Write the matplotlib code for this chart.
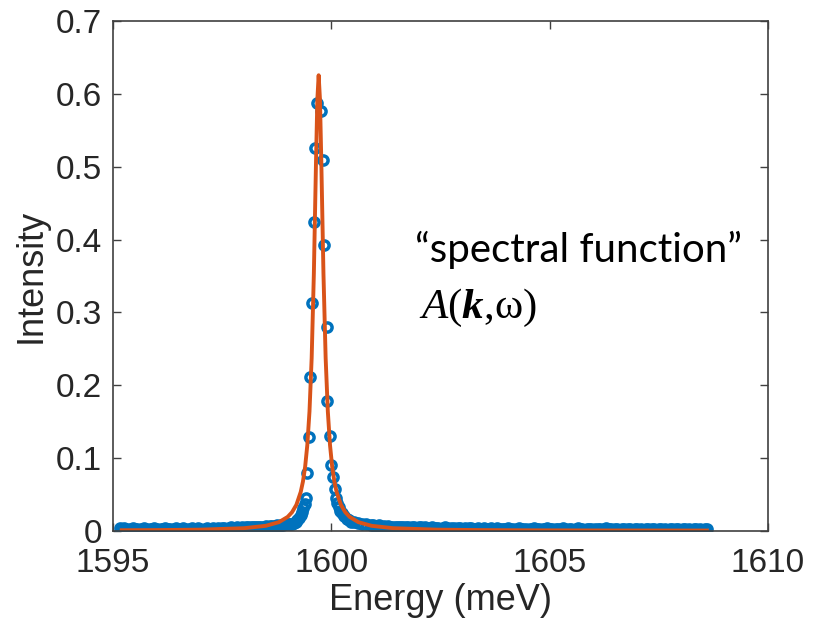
import numpy as np
import matplotlib.pyplot as plt

# measured spectrum (meV, intensity), low-energy tail
energy_left = [
    1595.15, 1595.20, 1595.25, 1595.30, 1595.35, 1595.40, 1595.45, 1595.50, 1595.55, 1595.60,
    1595.65, 1595.70, 1595.75, 1595.80, 1595.85, 1595.90, 1595.95, 1596.00, 1596.05, 1596.10,
    1596.15, 1596.20, 1596.25, 1596.30, 1596.35, 1596.40, 1596.45, 1596.50, 1596.55, 1596.60,
    1596.65, 1596.70, 1596.75, 1596.80, 1596.85, 1596.90, 1596.95, 1597.00, 1597.05, 1597.10,
    1597.15, 1597.20, 1597.25, 1597.30, 1597.35, 1597.40, 1597.45, 1597.50, 1597.55, 1597.60,
    1597.65, 1597.70, 1597.75, 1597.80, 1597.85, 1597.90, 1597.95, 1598.00, 1598.05, 1598.10,
    1598.15, 1598.20, 1598.25, 1598.30, 1598.35, 1598.40, 1598.45, 1598.50, 1598.55, 1598.60,
    1598.65, 1598.70, 1598.75, 1598.80, 1598.85, 1598.90, 1598.95, 1599.00]
intensity_left = [
    0.004, 0.003, 0.004, 0.003, 0.002, 0.003, 0.004, 0.003, 0.003, 0.002,
    0.003, 0.004, 0.003, 0.002, 0.003, 0.003, 0.004, 0.003, 0.002, 0.003,
    0.003, 0.004, 0.003, 0.003, 0.002, 0.003, 0.004, 0.003, 0.003, 0.004,
    0.003, 0.002, 0.003, 0.004, 0.003, 0.003, 0.004, 0.003, 0.002, 0.003,
    0.004, 0.003, 0.003, 0.004, 0.003, 0.004, 0.003, 0.004, 0.004, 0.003,
    0.004, 0.005, 0.004, 0.004, 0.005, 0.004, 0.005, 0.004, 0.005, 0.005,
    0.005, 0.006, 0.005, 0.006, 0.006, 0.005, 0.006, 0.007, 0.006, 0.007,
    0.007, 0.007, 0.008, 0.007, 0.008, 0.008, 0.009, 0.009]

# around the peak
energy_peak = [1599.06, 1599.10, 1599.14, 1599.18, 1599.22, 1599.26, 1599.30, 1599.33,
               1599.36, 1599.39, 1599.413, 1599.436, 1599.488, 1599.511, 1599.55, 1599.61,
               1599.626, 1599.665, 1599.757, 1599.802, 1599.839, 1599.894, 1599.908,
               1599.969, 1599.992, 1600.045, 1600.084, 1600.10, 1600.13, 1600.17, 1600.21,
               1600.25, 1600.30, 1600.35, 1600.40, 1600.46, 1600.52, 1600.60, 1600.70,
               1600.80, 1600.90]
intensity_peak = [0.009, 0.010, 0.011, 0.013, 0.015, 0.018, 0.022, 0.026,
                  0.031, 0.037, 0.045, 0.080, 0.129, 0.211, 0.3125, 0.424,
                  0.525, 0.588, 0.577, 0.509, 0.392, 0.280, 0.179,
                  0.131, 0.0906, 0.0745, 0.057, 0.045, 0.039, 0.033, 0.028,
                  0.024, 0.020, 0.017, 0.015, 0.013, 0.012, 0.011, 0.010,
                  0.009, 0.008]

# high-energy tail
energy_right = [
    1600.95, 1601.00, 1601.05, 1601.10, 1601.15, 1601.20, 1601.25, 1601.30, 1601.35, 1601.40,
    1601.45, 1601.50, 1601.55, 1601.60, 1601.65, 1601.70, 1601.75, 1601.80, 1601.85, 1601.90,
    1601.95, 1602.00, 1602.05, 1602.10, 1602.15, 1602.20, 1602.25, 1602.30, 1602.35, 1602.40,
    1602.45, 1602.50, 1602.55, 1602.60, 1602.65, 1602.70, 1602.75, 1602.80, 1602.85, 1602.90,
    1602.95, 1603.00, 1603.05, 1603.10, 1603.15, 1603.20, 1603.25, 1603.30, 1603.35, 1603.40,
    1603.45, 1603.50, 1603.55, 1603.60, 1603.65, 1603.70, 1603.75, 1603.80, 1603.85, 1603.90,
    1603.95, 1604.00, 1604.05, 1604.10, 1604.15, 1604.20, 1604.25, 1604.30, 1604.35, 1604.40,
    1604.45, 1604.50, 1604.55, 1604.60, 1604.65, 1604.70, 1604.75, 1604.80, 1604.85, 1604.90,
    1604.95, 1605.00, 1605.05, 1605.10, 1605.15, 1605.20, 1605.25, 1605.30, 1605.35, 1605.40,
    1605.45, 1605.50, 1605.55, 1605.60, 1605.65, 1605.70, 1605.75, 1605.80, 1605.85, 1605.90,
    1605.95, 1606.00, 1606.05, 1606.10, 1606.15, 1606.20, 1606.25, 1606.30, 1606.35, 1606.40,
    1606.45, 1606.50, 1606.55, 1606.60, 1606.65, 1606.70, 1606.75, 1606.80, 1606.85, 1606.90,
    1606.95, 1607.00, 1607.05, 1607.10, 1607.15, 1607.20, 1607.25, 1607.30, 1607.35, 1607.40,
    1607.45, 1607.50, 1607.55, 1607.60, 1607.65, 1607.70, 1607.75, 1607.80, 1607.85, 1607.90,
    1607.95, 1608.00, 1608.05, 1608.10, 1608.15, 1608.20, 1608.25, 1608.30, 1608.35, 1608.40,
    1608.45, 1608.50, 1608.55, 1608.60]
intensity_right = [
    0.008, 0.007, 0.007, 0.008, 0.006, 0.007, 0.006, 0.007, 0.006, 0.006,
    0.005, 0.006, 0.005, 0.006, 0.005, 0.005, 0.006, 0.004, 0.005, 0.005,
    0.004, 0.005, 0.005, 0.004, 0.005, 0.004, 0.004, 0.005, 0.004, 0.004,
    0.004, 0.003, 0.004, 0.005, 0.004, 0.003, 0.004, 0.004, 0.003, 0.004,
    0.004, 0.003, 0.004, 0.003, 0.004, 0.004, 0.003, 0.003, 0.004, 0.003,
    0.003, 0.004, 0.003, 0.003, 0.004, 0.003, 0.003, 0.004, 0.003, 0.003,
    0.003, 0.003, 0.004, 0.003, 0.003, 0.002, 0.003, 0.004, 0.003, 0.003,
    0.003, 0.002, 0.003, 0.003, 0.004, 0.003, 0.003, 0.002, 0.003, 0.003,
    0.004, 0.003, 0.003, 0.002, 0.003, 0.003, 0.003, 0.004, 0.003, 0.002,
    0.003, 0.003, 0.002, 0.003, 0.004, 0.003, 0.003, 0.002, 0.003, 0.003,
    0.003, 0.002, 0.003, 0.003, 0.003, 0.002, 0.003, 0.004, 0.003, 0.003,
    0.002, 0.003, 0.003, 0.002, 0.003, 0.003, 0.002, 0.003, 0.003, 0.002,
    0.003, 0.003, 0.002, 0.003, 0.002, 0.003, 0.003, 0.002, 0.003, 0.003,
    0.002, 0.003, 0.003, 0.002, 0.003, 0.002, 0.003, 0.003, 0.002, 0.003,
    0.003, 0.002, 0.003, 0.003, 0.002, 0.003, 0.002, 0.003, 0.003, 0.002,
    0.003, 0.002, 0.003, 0.003]

# Lorentzian fit curve, sampled
fit_energy = [1595.2, 1596.0, 1597.0, 1598.0, 1598.5, 1598.8, 1599.0, 1599.1, 1599.2,
              1599.3, 1599.35, 1599.4, 1599.45, 1599.5, 1599.55, 1599.6, 1599.65,
              1599.68, 1599.71, 1599.74, 1599.77, 1599.82, 1599.87, 1599.92, 1599.97,
              1600.02, 1600.07, 1600.12, 1600.22, 1600.32, 1600.42, 1600.62, 1600.92,
              1601.42, 1602.42, 1603.42, 1604.5, 1606.0, 1608.6]
fit_intensity = [0.0010, 0.0012, 0.0018, 0.0038, 0.0071, 0.0121, 0.0193, 0.0257, 0.0359,
                 0.0537, 0.0678, 0.0879, 0.1179, 0.1641, 0.2375, 0.3530, 0.5091,
                 0.5923, 0.6255, 0.5923, 0.5091, 0.3530, 0.2375, 0.1641, 0.1179,
                 0.0879, 0.0678, 0.0537, 0.0359, 0.0257, 0.0193, 0.0121, 0.0071,
                 0.0038, 0.0018, 0.0012, 0.0009, 0.0007, 0.0006]

energy = np.array(energy_left + energy_peak + energy_right)
intensity = np.array(intensity_left + intensity_peak + intensity_right)

plt.rcParams['mathtext.fontset'] = 'custom'
plt.rcParams['mathtext.rm'] = 'Liberation Serif'
plt.rcParams['mathtext.it'] = 'Liberation Serif:italic'
plt.rcParams['mathtext.bf'] = 'Liberation Serif:bold:italic'

axis_col = '#404040'
txt_col = '#262626'
fig = plt.figure(figsize=(8.17, 6.28), dpi=100)
ax = fig.add_axes([0.1383, 0.1545, 0.8017, 0.8121])

ax.plot(energy, intensity, 'o', mfc='none', mec='#0072BD', ms=6.6, mew=2.5)
ax.plot(fit_energy, fit_intensity, '-', color='#D95319', lw=2.8)

ax.set_xlim(1595, 1610)
ax.set_ylim(0, 0.7)
ax.set_xticks([1595, 1600, 1605, 1610])
ax.set_yticks(np.arange(0, 0.71, 0.1))
ax.set_yticklabels(['0', '0.1', '0.2', '0.3', '0.4', '0.5', '0.6', '0.7'])
ax.tick_params(direction='in', length=6, width=1, colors=axis_col, labelcolor=txt_col,
               labelsize=24, top=True, right=True)
ax.tick_params(axis='y', pad=8)
ax.tick_params(axis='x', pad=12)
for s in ax.spines.values():
    s.set_color(axis_col)
    s.set_linewidth(1.2)

ax.set_xlabel('Energy (meV)', fontsize=26, color=txt_col, family='Liberation Sans', labelpad=3)
ax.set_ylabel('Intensity', fontsize=26, color=txt_col, family='Liberation Sans', labelpad=5)
for lab in ax.get_xticklabels() + ax.get_yticklabels():
    lab.set_family('Liberation Sans')

fig.text(0.508, 0.583, '\u201cspectral function\u201d', fontsize=29, family='Lato',
         color='black', va='baseline')
fig.text(0.513, 0.494, '$A(\\mathbf{k}{,}\\mathrm{\u03c9})$',
         fontsize=31, color='black', va='baseline')

fig.savefig('out.png', dpi=100)
